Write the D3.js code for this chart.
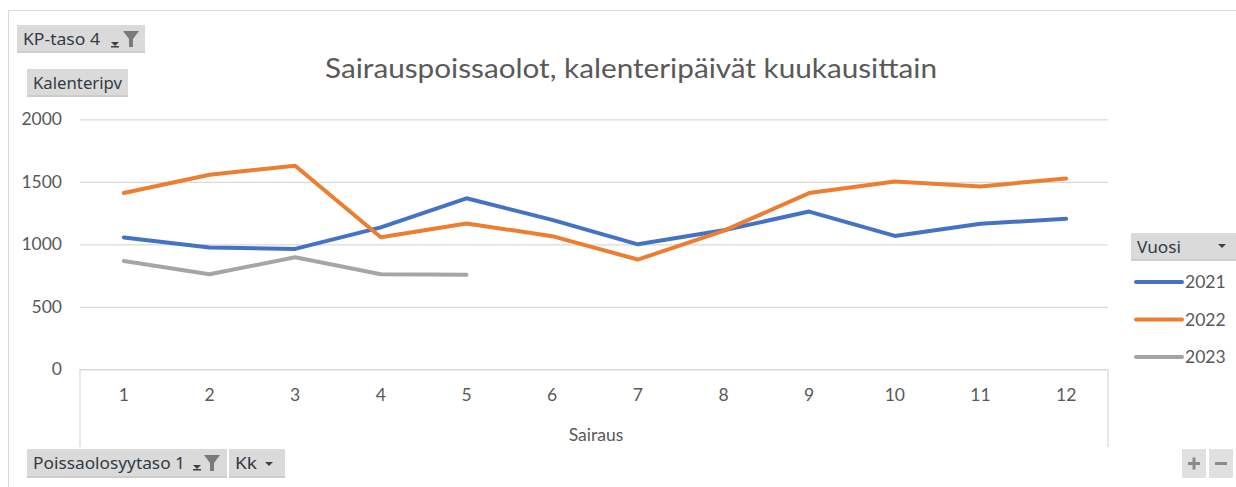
<!DOCTYPE html>
<html><head><meta charset="utf-8">
<script src="https://cdn.jsdelivr.net/npm/d3@7/dist/d3.min.js"></script>
<style>
body{margin:0;background:#fff;}
svg{display:block;font-family:Lato,"Open Sans",sans-serif;}
</style></head>
<body><svg id="c" width="1236" height="487"></svg>
<script>
const months = ["1","2","3","4","5","6","7","8","9","10","11","12"];
const years = ["2021","2022","2023"];
const v2021 = [1055, 975, 963, 1135, 1368, 1195, 1000, 1112, 1262, 1067, 1164, 1204];
const v2022 = [1410, 1557, 1629, 1057, 1167, 1065, 878, 1107, 1410, 1503, 1463, 1527];
const v2023 = [867, 760, 896, 760, 757];
const yTicks = [0, 500, 1000, 1500, 2000];
const colors = ["#4472C4", "#ED7D31", "#A5A5A5"];
const seriesVals = [v2021, v2022, v2023];
const title = "Sairauspoissaolot, kalenteripäivät kuukausittain";
const axisTitle = "Sairaus";

const svg = d3.select("#c");
const txt = "#595959";

// chart area border
svg.append("path").attr("d","M8.5,487 V10.5 H1236").attr("fill","none").attr("stroke","#d9d9d9").attr("stroke-width",1);

const x = d3.scaleBand().domain(months).range([81,1109]);
const y = d3.scaleLinear().domain([0,2000]).range([369.3,119.3]);

// y axis with gridlines
const ya = svg.append("g").attr("transform","translate(80,0)")
  .call(d3.axisLeft(y).tickValues(yTicks).tickFormat(d3.format("d")).tickSize(-1028).tickPadding(18));
ya.select(".domain").remove();
ya.selectAll(".tick line").attr("stroke","#d9d9d9").attr("stroke-width",1.2);
ya.selectAll(".tick text").attr("fill",txt).attr("font-size",17.5).attr("font-family","Lato,sans-serif");

// x axis (multi-level box)
const xa = svg.append("g").attr("transform","translate(0,369.3)")
  .call(d3.axisBottom(x).tickSize(0).tickPadding(19));
xa.select(".domain").remove();
xa.selectAll(".tick text").attr("fill",txt).attr("font-size",17.5).attr("font-family","Lato,sans-serif");
svg.append("path").attr("d","M80,447 V369.5 H1108 V447").attr("fill","none").attr("stroke","#d9d9d9").attr("stroke-width",1.2);
svg.append("text").attr("x",596).attr("y",441).attr("text-anchor","middle")
  .attr("fill",txt).attr("font-size",17.5).text(axisTitle);

// lines
const line = d3.line().x((d,i)=>x(months[i])+x.bandwidth()/2).y(d=>y(d));
seriesVals.forEach((vals,k)=>{
  svg.append("path").datum(vals).attr("d",line).attr("fill","none")
    .attr("stroke",colors[k]).attr("stroke-width",4).attr("stroke-linejoin","round").attr("stroke-linecap","round");
});

// title
svg.append("text").attr("x",631).attr("y",78).attr("text-anchor","middle").attr("fill",txt)
  .attr("font-size",27).attr("textLength",612).attr("lengthAdjust","spacingAndGlyphs").text(title);

// buttons
function button(x0,y0,w,h,label,tw){
  const g = svg.append("g");
  g.append("rect").attr("x",x0).attr("y",y0).attr("width",w).attr("height",h).attr("fill","#dadada");
  g.append("rect").attr("x",x0).attr("y",y0+h-2).attr("width",w).attr("height",2).attr("fill","#cccccc");
  const t = g.append("text").attr("x",x0+6).attr("y",y0+h/2+5.5).attr("fill","#333b45").attr("font-size",16)
    .attr("font-family","'Noto Sans',Lato,sans-serif").text(label);
  if(tw) t.attr("textLength",tw).attr("lengthAdjust","spacingAndGlyphs");
  return g;
}
function funnel(cx,cy){
  svg.append("path").attr("d",`M${cx-8},${cy-8} H${cx+8} L${cx+2},${cy} V${cy+8} H${cx-2} V${cy} Z`).attr("fill","#7a7a7a");
}
function ddArrow(cx,cy){
  svg.append("path").attr("d",`M${cx-4},${cy-2} H${cx+4} L${cx},${cy+2} Z`).attr("fill","#404040");
}
button(17,25,128,28,"KP-taso 4",77);
ddArrow(115,44); svg.append("rect").attr("x",111).attr("y",46).attr("width",8).attr("height",1.5).attr("fill","#404040");
funnel(131,39);
button(27,69,101,28,"Kalenteripv",89);
button(27,449,200,29,"Poissaolosyytaso 1",152);
ddArrow(197,467); svg.append("rect").attr("x",193).attr("y",469).attr("width",8).attr("height",1.5).attr("fill","#404040");
funnel(212,463);
button(229,449,56,29,"Kk",22);
ddArrow(269,464);
button(1131,233,105,28,"Vuosi",44);
ddArrow(1222,246);

// +/- buttons
svg.append("rect").attr("x",1182).attr("y",449).attr("width",24).attr("height",29).attr("fill","#e0e0e0");
svg.append("rect").attr("x",1209).attr("y",449).attr("width",24).attr("height",29).attr("fill","#e0e0e0");
svg.append("path").attr("d","M1188,463.5 H1200 M1194,457.5 V469.5 M1215,463.5 H1227").attr("stroke","#8a8a8a").attr("stroke-width",3);

// legend
const lg = svg.append("g");
years.forEach((yr,i)=>{
  const yy = 282 + i*37.5;
  lg.append("line").attr("x1",1136).attr("x2",1182).attr("y1",yy).attr("y2",yy)
    .attr("stroke",colors[i]).attr("stroke-width",4).attr("stroke-linecap","round");
  lg.append("text").attr("x",1185).attr("y",yy+6).attr("fill",txt).attr("font-size",17.5).text(yr);
});
</script></body></html>
